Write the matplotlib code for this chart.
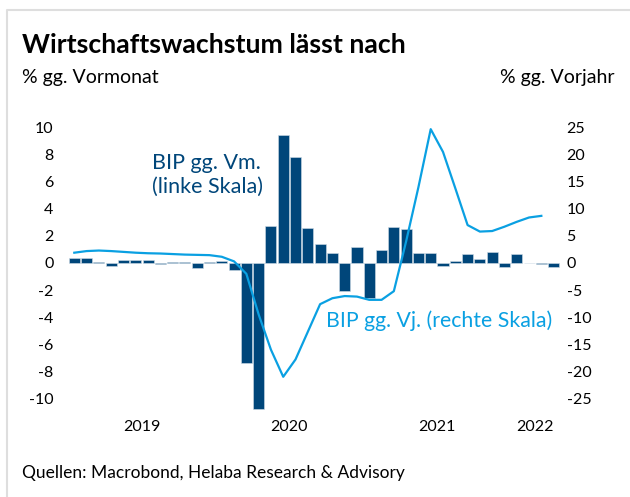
import numpy as np
import matplotlib
matplotlib.use("Agg")
import matplotlib.pyplot as plt
from matplotlib.lines import Line2D

plt.rcParams['font.family'] = ['Lato', 'DejaVu Sans']
plt.rcParams['axes.unicode_minus'] = False

# monthly data, Jan 2019 .. Apr 2022
bip_vm = [0.4, 0.4, 0.05, -0.2, 0.2, 0.2, 0.2, -0.08, 0.05, 0.05, -0.4, 0.07,
          0.17, -0.5, -7.35, -10.75, 2.7, 9.45, 7.85, 2.55, 1.38, 0.72, -2.09, 1.16,
          -2.58, 0.98, 2.68, 2.51, 0.72, 0.76, -0.2, 0.18, 0.66, 0.27, 0.79, -0.28,
          0.69, 0.0, -0.05, -0.28]
bip_vj = [1.9, 2.2, 2.3, 2.2, 2.05, 1.9, 1.8, 1.75, 1.65, 1.55, 1.5, 1.45,
          1.15, 0.3, -2.0, -9.5, -16.0, -21.0, -17.8, -12.7, -7.6, -6.5, -6.1, -6.2,
          -6.8, -6.8, -5.2, 4.0, 14.0, 24.7, 20.5, 13.8, 7.0, 5.8, 5.9, 6.7,
          7.6, 8.4, 8.7]
years = ['2019', '2020', '2021', '2022']
year_pos = [5.5, 17.5, 29.5, 37.5]

dark = '#00467a'
light = '#0aa0e2'

fig = plt.figure(figsize=(6.3, 4.97), dpi=100)
ax = fig.add_axes([62/630, 1-412/497, (561-62)/630, (412-114)/497])
ax2 = ax.twinx()

x = np.arange(len(bip_vm))
ax.bar(x, bip_vm, width=0.9, color=dark, edgecolor='#d0dce6', linewidth=0.4, zorder=2)
ax2.plot(np.arange(len(bip_vj)), bip_vj, color=light, lw=1.6, zorder=3)

ax.set_zorder(1)
ax2.set_zorder(2)
ax.patch.set_visible(False)

ax.set_xlim(-1.0, 39.6)
ax.set_ylim(-11, 11)
ax2.set_ylim(-27.5, 27.5)
ax.set_yticks(np.arange(-10, 11, 2))
ax2.set_yticks(np.arange(-25, 26, 5))
ax.set_xticks(year_pos)
ax.set_xticklabels(years)

for a in (ax, ax2):
    for s in a.spines.values():
        s.set_visible(False)
    a.tick_params(length=0, labelsize=11.5, colors='black')
ax.tick_params(axis='y', pad=6)
ax2.tick_params(axis='y', pad=4)
ax.tick_params(axis='x', pad=6)

# annotations
fig.text(152/630, 1-163/497, 'BIP gg. Vm.', color=dark, fontsize=15.5, va='center', ha='left')
fig.text(152/630, 1-187/497, '(linke Skala)', color=dark, fontsize=15.5, va='center', ha='left')
fig.text(326/630, 1-321/497, 'BIP gg. Vj. (rechte Skala)', color=light, fontsize=15.3,
         va='center', ha='left')

# titles
fig.text(22/630, 1-45/497, 'Wirtschaftswachstum lässt nach', fontsize=19.2, fontweight='bold',
         va='center', ha='left')
fig.text(22/630, 1-78/497, '% gg. Vormonat', fontsize=14, va='center', ha='left')
fig.text(615/630, 1-78/497, '% gg. Vorjahr', fontsize=14, va='center', ha='right')
fig.text(22/630, 1-473/497, 'Quellen: Macrobond, Helaba Research & Advisory', fontsize=12.5,
         va='center', ha='left')

# light frame at top/left
fig.add_artist(Line2D([7/630, 7/630, 1], [0, 1-10/497, 1-10/497], transform=fig.transFigure,
                      color='#dedede', lw=1.5))

fig.savefig('out.png', dpi=100)
